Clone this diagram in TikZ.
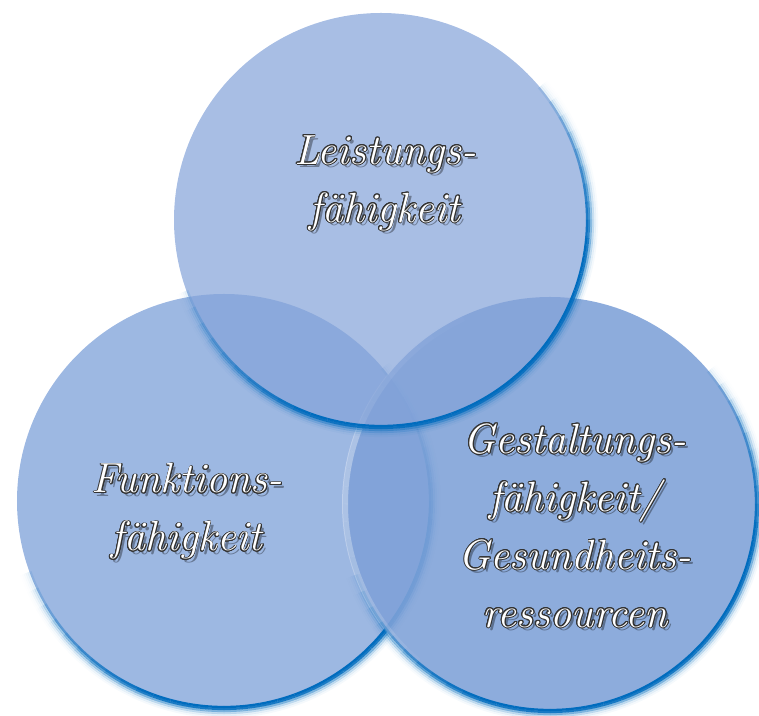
\documentclass[tikz,border=0pt]{standalone}
\usepackage{fontspec}
\usepackage[copies]{contour}
\contourlength{0.5pt}
\definecolor{rimblue}{RGB}{0,108,190}
\definecolor{topfill}{RGB}{132,163,217}
\definecolor{leftfill}{RGB}{140,171,221}
\definecolor{rightfill}{RGB}{127,162,216}
% dark glow along the lower right rim
\newcommand{\rimglow}[1]{%
  \foreach \a in {195,200,...,395}{
    \pgfmathsetmacro\rimop{min(1,1.4*max(0,sin((\a-195)/205*180)))}
    \foreach \dr/\fac in {-0.02/1,0.02/.9,0.06/.5,0.10/.25,0.14/.1,0.18/.04}{
      \pgfmathsetmacro\rimo{\rimop*\fac}
      \pgfmathsetmacro\rimr{4.14+\dr}
      \draw[rimblue, line width=0.045cm, draw opacity=\rimo]
        ([shift={(\a:\rimr)}]#1.center) arc[start angle=\a, delta angle=5, radius=\rimr];
    }
  }
}
\newcommand{\cw}[1]{\contour{black!80}{#1}}
\begin{document}
\begin{tikzpicture}[disk/.style={circle, minimum size=8.28cm, inner sep=0pt},
    words/.style={align=center, text=white, font=\fontsize{24}{33}\selectfont\itshape},
    shade/.style={align=center, text=black, opacity=.35, font=\fontsize{24}{33}\selectfont\itshape}]
  \useasboundingbox (0,0) rectangle (15.18,14.32);
  \node[disk, fill=leftfill, fill opacity=.85] (left) at (4.48,4.30) {};
  \rimglow{left}
  \node[disk, fill=rightfill, fill opacity=.89] (right) at (11.00,4.24) {};
  \rimglow{right}
  \foreach \a in {110,115,...,225}{
    \pgfmathsetmacro\rimo{.35*max(0,sin((\a-110)/120*180))}
    \draw[white, line width=0.12cm, draw opacity=\rimo]
      ([shift={(\a:4.1)}]right.center) arc[start angle=\a, delta angle=5, radius=4.1];
  }
  \node[disk, fill=topfill, fill opacity=.71] (top) at (7.62,9.92) {};
  \rimglow{top}
  % labels
  \node[shade] at ([shift={(0.14,0.67)}]top.center) {Leistungs-\\fähigkeit};
  \node[words] (topText) at ([shift={(0.08,0.73)}]top.center) {\cw{Leistungs-}\\\cw{fähigkeit}};
  \node[shade] at ([shift={(-0.68,-0.28)}]left.center) {Funktions-\\fähigkeit};
  \node[words] (leftText) at ([shift={(-0.74,-0.22)}]left.center) {\cw{Funktions-}\\\cw{fähigkeit}};
  \node[shade] at ([shift={(0.56,-0.50)}]right.center)
    {Gestaltungs-\\fähigkeit/\\Gesundheits-\\ressourcen};
  \node[words] (rightText) at ([shift={(0.50,-0.44)}]right.center)
    {\cw{Gestaltungs-}\\\cw{fähigkeit/}\\\cw{Gesundheits-}\\\cw{ressourcen}};
\end{tikzpicture}
\end{document}
